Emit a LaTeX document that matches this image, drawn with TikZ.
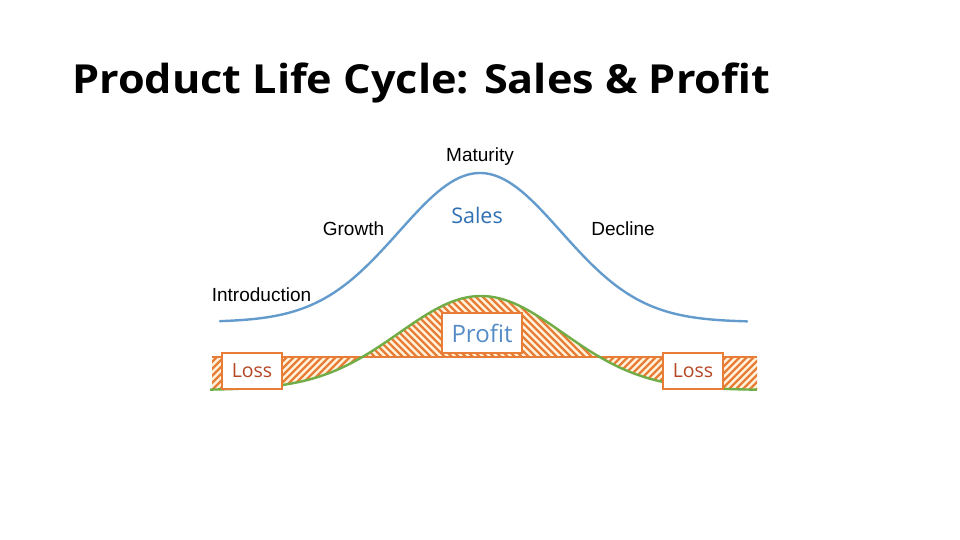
\documentclass[tikz,border=0pt]{standalone}
\usepackage{fontspec}
\setmainfont{Liberation Sans}
\newfontfamily\osans{Open Sans}
\newfontfamily\tsans{Open Sans}[FakeStretch=1.08]
\definecolor{curveblue}{RGB}{100,155,205}
\definecolor{salesblue}{RGB}{46,112,178}
\definecolor{profitblue}{RGB}{85,140,200}
\definecolor{pgreen}{RGB}{112,173,71}
\definecolor{porange}{RGB}{232,125,55}
\definecolor{pcream}{RGB}{255,243,220}
\definecolor{lossred}{RGB}{180,70,35}
\begin{document}
\begin{tikzpicture}[x=1pt,y=-1pt,
  declare function={
    g(\x)=390-94*exp(0-0.5*(((\x-481)/82)^2));
    b(\x)=322-149*exp(0-0.5*(((\x-480)/81)^2));
  },
  stage/.style={font=\fontsize{19}{22}\selectfont, anchor=base, inner sep=0},
  hatch/.style={porange, line width=2.4pt},
  box/.style={draw=porange, line width=1.6pt, fill=white, inner sep=0},
]
\useasboundingbox (0,0) rectangle (960,540);

% title
\node[anchor=base west, inner sep=0, font=\tsans\bfseries\fontsize{40}{48}\selectfont] (title) at (72,94) {Product Life Cycle: Sales \& Profit};

% sales curve
\draw[curveblue, line width=2.4pt, line cap=round] plot[domain=220:747, samples=120] (\x,{b(\x)});

% profit hatch
\begin{scope}
  \clip (362.3,357) -- plot[domain=362.3:599.7, samples=80] (\x,{g(\x)}) -- cycle;
  \fill[pcream] (350,280) rectangle (610,360);
  \foreach \s in {240,247,...,650} \draw[hatch] (\s,285) -- ++(80,80);
\end{scope}
% loss hatch left
\begin{scope}
  \clip (212,357) -- plot[domain=212:362.3, samples=60] (\x,{g(\x)}) -- cycle;
  \fill[pcream] (200,350) rectangle (370,400);
  \foreach \s in {160,167,...,380} \draw[hatch] (\s,400) -- ++(50,-50);
\end{scope}
% loss hatch right
\begin{scope}
  \clip (599.7,357) -- plot[domain=599.7:757, samples=60] (\x,{g(\x)}) -- (757,357) -- cycle;
  \fill[pcream] (590,350) rectangle (770,400);
  \foreach \s in {550,557,...,770} \draw[hatch] (\s,400) -- ++(50,-50);
\end{scope}

% zero line
\coordinate (z0) at (212,357);
\coordinate (z1) at (757,357);
\draw[porange, line width=2pt] (z0) -- (z1);

% profit curve
\draw[pgreen, line width=2.4pt] plot[domain=210:757, samples=120] (\x,{g(\x)});

% boxes
\node[box, minimum width=80pt, minimum height=40pt, text=profitblue, font=\osans\fontsize{24}{28}\selectfont] (profit) at (482,333) {Profit};
\node[box, minimum width=60pt, minimum height=36pt, text=lossred, font=\osans\fontsize{19.5}{23}\selectfont] (lossL) at (252,371) {Loss};
\node[box, minimum width=60pt, minimum height=36pt, text=lossred, font=\osans\fontsize{19.5}{23}\selectfont] (lossR) at (693,371) {Loss};

% labels
\node[anchor=base, inner sep=0, text=salesblue, font=\osans\fontsize{21.5}{25}\selectfont] (sales) at (477,223.3) {Sales};
\node[stage] (maturity) at (480,161.7) {Maturity};
\node[stage] (growth) at (353.5,235) {Growth};
\node[stage] (decline) at (623,235) {Decline};
\node[stage] (intro) at (261.5,301.7) {Introduction};
\end{tikzpicture}
\end{document}
